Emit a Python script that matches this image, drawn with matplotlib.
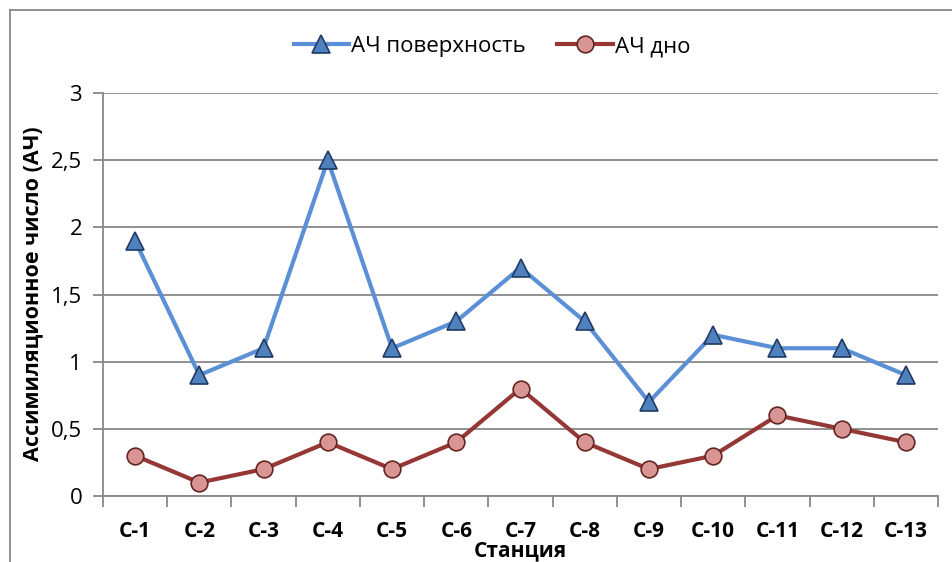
import numpy as np
import matplotlib.pyplot as plt
from matplotlib.lines import Line2D

plt.rcParams['font.family'] = ['Open Sans', 'DejaVu Sans']

stations = ['C-1', 'C-2', 'C-3', 'C-4', 'C-5', 'C-6', 'C-7',
            'C-8', 'C-9', 'C-10', 'C-11', 'C-12', 'C-13']
surface = [1.9, 0.9, 1.1, 2.5, 1.1, 1.3, 1.7, 1.3, 0.7, 1.2, 1.1, 1.1, 0.9]
bottom = [0.3, 0.1, 0.2, 0.4, 0.2, 0.4, 0.8, 0.4, 0.2, 0.3, 0.6, 0.5, 0.4]
yticks = [0, 0.5, 1, 1.5, 2, 2.5, 3]
ytick_labels = ['0', '0,5', '1', '1,5', '2', '2,5', '3']

grid_c = '#888888'

fig = plt.figure(figsize=(9.52, 5.62), dpi=100)
ax = fig.add_axes([103/952, 1 - 496/562, 835/952, 403/562])

x = np.arange(len(stations))
ax.plot(x, surface, color='#5B8FD6', lw=3, marker='^', markersize=13,
        markerfacecolor='#4F81BD', markeredgecolor='#1F3B66', markeredgewidth=1.2,
        label='АЧ поверхность', zorder=3)
ax.plot(x, bottom, color='#953735', lw=3, marker='o', markersize=12,
        markerfacecolor='#D99594', markeredgecolor='#632523', markeredgewidth=1.2,
        label='АЧ дно', zorder=3)

ax.set_xlim(-0.5, len(stations) - 0.5)
ax.set_ylim(0, 3)
ax.set_yticks(yticks)
ax.set_yticklabels(ytick_labels, fontsize=16)
ax.set_xticks(x)
ax.set_xticklabels(stations, fontsize=15, fontweight='bold')
ax.set_xticks(np.arange(len(stations) + 1) - 0.5, minor=True)
ax.tick_params(axis='x', which='major', length=0, pad=18)
ax.tick_params(axis='x', which='minor', length=8, width=1.3, color=grid_c, direction='out')
ax.tick_params(axis='y', length=7, width=1.3, color=grid_c, direction='out', pad=8)

ax.yaxis.grid(True, color=grid_c, lw=1.3)
ax.set_axisbelow(True)
for side in ['top', 'right']:
    ax.spines[side].set_visible(False)
for side in ['left', 'bottom']:
    ax.spines[side].set_color(grid_c)
    ax.spines[side].set_linewidth(1.3)

fig.text(33/952, 1 - 294/562, 'Ассимиляционное число (АЧ)', rotation=90,
         fontsize=15.5, fontweight='bold', ha='center', va='center')
fig.text(520/952, 1 - 551/562, 'Станция', fontsize=15, fontweight='bold',
         ha='center', va='center')

ax.legend(loc='center', bbox_to_anchor=(0.466, 1.115), ncol=2, frameon=False,
          fontsize=16, handlelength=2.5, columnspacing=1.4, handletextpad=0.1)

# outer chart frame
fig.add_artist(Line2D([10/952, 10/952], [0, 1 - 10/562], color=grid_c, lw=1.3,
                      transform=fig.transFigure))
fig.add_artist(Line2D([10/952, 1], [1 - 10/562, 1 - 10/562], color=grid_c, lw=1.3,
                      transform=fig.transFigure))

fig.savefig('out.png', dpi=100)
